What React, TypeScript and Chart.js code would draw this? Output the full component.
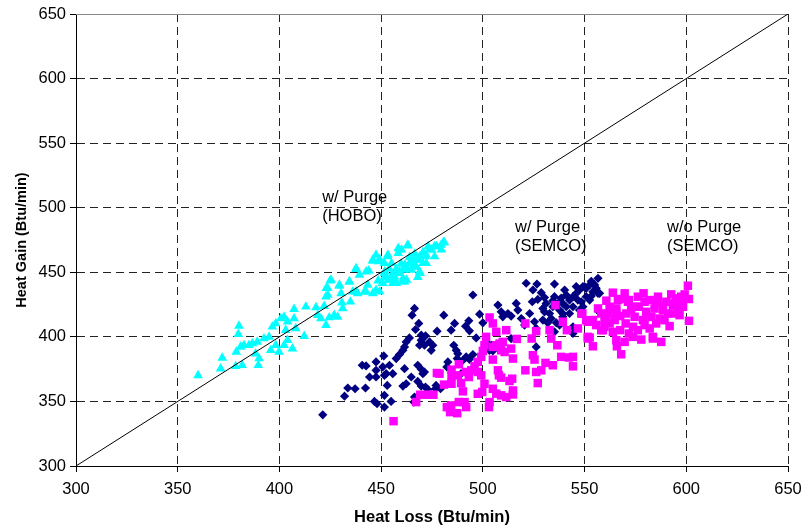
import React, { useEffect, useRef } from "react";
import { Chart, registerables } from "chart.js";

Chart.register(...registerables);

// Axis ticks (Btu/min)
const lossTicks = [300, 350, 400, 450, 500, 550, 600, 650];
const gainTicks = [300, 350, 400, 450, 500, 550, 600, 650];

// Heat Loss, Heat Gain pairs
const hoboPurge: [number, number][] = [
  [360.0,370.2],[371.1,375.4],[371.9,383.7],[380.1,408.5],[379.8,402.1],[378.5,377.2],[381.7,378.0],[378.8,388.3],
  [380.9,392.2],[382.6,393.5],[385.0,393.5],[386.7,394.8],[389.1,396.1],[388.3,387.0],[389.6,378.0],[390.0,383.2],
  [392.4,398.7],[394.9,400.0],[396.5,407.8],[398.2,410.4],[400.7,414.2],[402.3,415.5],[404.0,411.7],[403.1,405.2],
  [395.7,389.6],[398.2,393.5],[399.8,388.3],[402.3,393.5],[404.0,397.4],[406.4,390.9],[407.2,421.5],[407.2,414.2],
  [408.0,406.5],[412.2,400.5],[413.0,423.3],[418.0,422.8],[418.8,416.8],[420.4,414.2],[422.9,409.1],[422.0,423.8],
  [424.5,415.0],[426.9,416.8],[428.6,415.5],[431.1,422.0],[430.7,426.4],[434.9,427.2],[422.9,431.1],[423.7,437.6],
  [424.9,443.5],[429.4,439.4],[430.3,433.7],[434.4,442.8],[437.7,435.0],[437.7,452.3],[441.8,435.0],[443.4,440.2],
  [445.9,433.7],[447.5,436.3],[449.3,435.0],[448.5,443.5],[445.9,458.8],[443.9,451.3],[448.5,458.3],[449.3,460.1],
  [453.1,462.2],[455.1,457.0],[451.8,450.6],[453.5,444.0],[456.8,444.0],[458.4,464.8],[460.0,467.4],[463.0,470.5],
  [460.9,451.8],[462.5,444.0],[461.7,455.7],[465.0,458.3],[469.1,449.2],[468.3,459.6],[471.5,462.2],[474.8,467.4],
  [477.3,470.0],[480.6,473.1],[473.1,470.0],[466.6,454.4],[458.4,449.2],[451.6,446.1],[455.7,448.7],[457.4,452.6],
  [459.8,456.5],[464.0,461.7],[466.5,464.2],[470.6,465.5],[468.0,446.1],[455.7,441.5],[460.6,442.7],[464.8,451.8],
  [472.2,457.0],[476.3,462.2],[479.6,467.4],[454.0,452.6],[450.7,441.5],[458.4,468.6],
  [451.6,449.2],[454.1,444.0],[456.6,446.6],[459.0,450.5],[460.7,445.3],[462.3,453.1],[463.9,457.0],[466.4,459.6],
  [468.9,462.2],[467.2,454.4],[470.5,457.0],[472.1,463.5],[473.8,467.4],[476.2,470.0],[479.5,471.2],[481.1,473.1],
  [459.0,467.4],[463.1,471.2],[453.3,463.5],[450.8,441.5],[457.4,441.5],[461.5,442.7],[468.9,450.5],[451.6,457.0],
  [445.9,459.6],[447.5,463.5],[442.6,450.5],[439.3,447.9],[437.7,453.1],[434.4,442.7],[429.5,440.2],[425.4,444.0],
  [423.0,437.6],[423.8,432.4],[436.1,435.0],[442.6,435.0],[438.5,433.7],
];

const semcoPurge: [number, number][] = [
  [421.3,339.6],[432.0,354.1],[433.6,360.4],[437.2,359.8],[442.3,360.4],[440.7,378.0],[442.6,377.5],[444.3,368.9],
  [447.5,368.9],[447.5,374.1],[447.5,380.6],[451.3,385.2],[451.6,370.2],[453.0,362.4],[451.6,354.7],[454.9,350.0],
  [451.6,345.6],[446.7,350.0],[448.0,348.2],[450.8,376.7],[452.5,371.5],[455.7,371.5],[454.1,378.0],[457.4,383.2],
  [459.0,386.3],[460.7,389.6],[461.5,392.2],[463.9,399.2],[462.3,396.1],[466.4,422.0],[465.2,416.8],[468.5,410.4],
  [466.9,405.7],[469.7,401.3],[471.8,400.8],[469.7,397.4],[468.9,393.5],[471.3,393.5],[473.8,396.1],[475.4,393.5],
  [474.6,389.6],[468.0,378.0],[469.7,374.9],[470.5,371.5],[461.5,375.4],[460.7,361.9],[462.3,363.7],[464.8,368.9],
  [468.0,365.5],[469.7,361.9],[471.8,361.1],[472.9,359.3],[466.4,353.4],[466.1,349.5],[477.5,404.4],[480.8,416.8],
  [484.4,405.2],[486.1,410.4],[485.7,393.5],[486.9,389.6],[487.7,387.0],[482.8,380.6],[489.3,371.5],[479.2,359.8],
  [476.7,359.8],[477.0,362.4],[471.3,372.8],[482.3,376.7],[487.4,383.2],[488.5,379.8],[490.2,381.9],[491.8,384.5],
  [493.4,382.6],[495.1,386.3],[491.5,408.3],[493.1,412.4],[493.4,404.7],[496.7,399.2],[495.1,432.4],[498.4,417.6],
  [500.0,410.9],[501.6,396.1],[503.0,392.7],[503.2,389.6],[504.9,389.1],[504.1,393.5],[507.4,424.6],[509.0,419.4],
  [509.8,415.5],[512.3,418.1],[513.9,416.1],[516.4,425.9],[517.2,420.7],[518.9,414.2],[520.5,409.1],[513.9,398.7],
  [521.3,441.5],[524.6,436.3],[526.6,440.9],[528.7,434.2],[527.0,429.0],[524.3,427.2],[523.0,418.1],[525.4,411.7],
  [526.2,406.5],[526.2,392.2],[530.3,419.4],[532.8,418.1],[535.2,440.9],[535.2,431.1],[537.7,427.2],[537.7,420.7],
  [539.3,415.5],[536.1,410.9],[541.0,432.4],[542.6,428.5],[544.3,431.1],[545.9,433.7],[547.5,436.3],[549.2,438.9],
  [550.8,437.6],[552.5,440.2],[556.6,445.3],[556.6,433.7],[554.1,435.0],[542.6,418.1],[544.3,407.8],[549.2,423.3],
  [541.0,423.3],[531.9,410.9],[529.5,413.0],[531.1,425.9],[534.4,423.3],[539.3,425.9],[544.3,423.3],[546.7,428.5],
  [533.6,414.2],[537.7,409.1],[547.5,420.7],[550.8,431.1],[529.5,422.0],[550.0,438.9],[555.7,437.6],[557.4,433.7],
  [553.3,431.6],[539.3,418.1],[535.2,403.9],[544.3,402.6],[557.4,418.9],
  [548.4,427.2],[552.5,428.5],[555.0,440.2],[545.9,438.9],[540.2,436.3],[553.3,443.0],[538.5,430.0],[534.4,428.0],
  [530.3,430.4],
];

const semcoNoPurge: [number, number][] = [
  [456.1,334.7],[467.2,349.5],[469.2,355.2],[473.1,355.2],[475.7,355.2],[477.4,372.0],[478.7,371.5],[480.9,363.0],
  [484.6,363.7],[484.6,369.4],[484.6,374.6],[488.2,378.8],[487.7,370.2],[489.3,364.2],[490.2,357.8],[488.2,349.5],
  [491.0,349.5],[491.8,345.6],[482.3,345.6],[484.4,346.9],[483.9,341.7],[487.4,340.9],[493.1,368.9],[491.8,372.8],
  [494.3,374.1],[495.9,377.2],[497.5,380.6],[499.2,384.5],[500.0,389.1],[500.8,393.5],[497.5,372.8],[499.2,370.2],
  [500.8,363.7],[497.5,355.9],[499.7,357.3],[503.3,349.5],[503.0,345.6],[501.6,400.0],[504.9,392.2],[506.6,393.5],
  [508.2,394.8],[509.8,396.1],[509.0,389.6],[510.7,388.3],[513.9,390.9],[514.8,383.2],[504.9,382.4],[506.6,403.9],
  [507.4,374.1],[507.9,370.2],[509.0,368.4],[514.4,367.6],[513.1,365.8],[504.9,359.8],[506.6,356.0],[509.0,354.7],
  [511.5,353.4],[514.8,358.5],[514.8,355.4],[504.9,410.4],[503.3,415.0],[511.5,405.2],[516.7,398.4],[520.9,410.4],
  [524.0,398.7],[526.2,404.4],[524.6,385.8],[525.4,382.4],[520.9,374.1],[526.2,372.8],[528.7,374.1],[530.8,379.8],
  [534.4,378.0],[527.0,364.2],[532.8,405.2],[533.6,398.7],[536.6,393.5],[538.5,384.5],[542.3,384.0],[544.3,384.5],
  [544.3,377.2],[535.7,424.6],[539.3,411.7],[541.3,405.2],[546.7,406.5],[548.9,418.1],[551.6,400.0],[554.1,392.7],
  [550.8,412.9],[553.3,411.7],[555.7,409.1],[558.2,418.1],[559.8,412.9],[559.0,405.2],[551.6,411.7],[552.5,399.5],
  [560.7,413.5],[562.3,410.4],[559.8,407.8],[558.2,405.2],[562.3,423.3],[563.9,434.2],[566.4,428.5],[565.6,419.4],
  [564.8,413.0],[563.9,403.9],[565.6,397.4],[565.9,392.7],[568.0,386.5],[567.5,405.2],[569.7,433.7],[571.3,427.2],
  [570.5,418.1],[570.2,410.4],[569.7,396.1],[571.8,402.6],[573.8,400.0],[573.8,407.8],[574.6,415.5],[575.4,423.3],
  [576.2,431.1],[577.9,397.9],[579.0,433.7],[579.5,427.2],[578.7,413.0],[580.3,419.4],[582.0,406.5],[583.6,398.7],
  [582.8,415.5],[584.4,421.9],[585.2,425.9],[586.9,414.2],[587.7,396.1],[588.5,420.7],[590.2,427.2],[591.0,418.1],
  [591.8,408.3],[592.6,432.9],[593.4,424.6],[595.1,429.8],[595.9,420.7],[597.5,427.2],[599.2,432.9],[600.8,439.6],
  [601.3,429.3],[601.3,412.4],[598.4,423.3],[596.7,416.8],[593.4,418.1],[568.0,429.3],[571.8,428.5],[576.6,423.3],
  [565.6,422.0],[561.5,418.1],[554.1,413.0],[548.4,418.0],[551.6,398.7],[583.6,400.0],
  [585.2,410.4],[589.3,412.9],[579.5,409.1],[576.2,405.2],[572.9,420.7],[567.5,416.1],[594.2,426.0],[597.5,431.1],
  [588.5,424.6],[582.0,428.5],[586.1,431.1],[560.7,428.0],[556.6,422.0],
];

// y = x reference line
const equalityLine = [
  { x: 300, y: 300 },
  { x: 650, y: 650 },
];

// Text annotations anchored in data coordinates (Heat Loss, Heat Gain)
const annotationLabels = [
  { lines: ["w/ Purge", "(HOBO)"], loss: 421, gain: 508.3 },
  { lines: ["w/ Purge", "(SEMCO)"], loss: 515.8, gain: 485.1 },
  { lines: ["w/o Purge", "(SEMCO)"], loss: 590.5, gain: 485.1 },
];

const FONT = '"Liberation Sans", Arial, Helvetica, sans-serif';

const toXY = (pts: [number, number][]) => pts.map(([x, y]) => ({ x, y }));

const annotationPlugin = {
  id: "annotationText",
  afterDatasetsDraw(chart: any) {
    const { ctx, scales } = chart;
    const xs = scales.x;
    const ys = scales.y;
    ctx.save();
    ctx.font = `16.5px ${FONT}`;
    ctx.fillStyle = "#000";
    ctx.textAlign = "left";
    ctx.textBaseline = "middle";
    annotationLabels.forEach((a) => {
      const px = xs.getPixelForValue(a.loss);
      const py = ys.getPixelForValue(a.gain);
      a.lines.forEach((t, i) => ctx.fillText(t, px, py + i * 19));
    });
    ctx.restore();
  },
};

const topBorderPlugin = {
  id: "topBorder",
  beforeDatasetsDraw(chart: any) {
    const { ctx, chartArea } = chart;
    ctx.save();
    ctx.strokeStyle = "#888";
    ctx.lineWidth = 1;
    ctx.setLineDash([]);
    const y = Math.round(chartArea.top) + 0.5;
    ctx.beginPath();
    ctx.moveTo(chartArea.left, y);
    ctx.lineTo(chartArea.right, y);
    ctx.stroke();
    ctx.restore();
  },
};

export default function App() {
  const canvasRef = useRef<HTMLCanvasElement | null>(null);

  useEffect(() => {
    document.body.style.margin = "0";
    const canvas = canvasRef.current;
    if (!canvas) return;
    const chart = new Chart(canvas, {
      type: "scatter",
      data: {
        datasets: [
          {
            label: "y = x",
            data: equalityLine,
            showLine: true,
            borderColor: "#000",
            borderWidth: 1,
            pointRadius: 0,
            order: -1,
          },
          {
            label: "w/o Purge (SEMCO)",
            data: toXY(semcoNoPurge),
            pointStyle: "rect",
            pointRadius: 6,
            backgroundColor: "#FF00FF",
            borderWidth: 0,
            order: 0,
          },
          {
            label: "w/ Purge (SEMCO)",
            data: toXY(semcoPurge),
            pointStyle: "rectRot",
            pointRadius: 4.6,
            backgroundColor: "#000080",
            borderWidth: 0,
            order: 1,
          },
          {
            label: "w/ Purge (HOBO)",
            data: toXY(hoboPurge),
            pointStyle: "triangle",
            pointRadius: 5.6,
            backgroundColor: "#00FFFF",
            borderWidth: 0,
            order: 2,
          },
        ] as any,
      },
      options: {
        responsive: false,
        animation: false,
        events: [],
        layout: { padding: { left: 0, right: 14, top: 14, bottom: 0 } },
        plugins: {
          legend: { display: false },
          tooltip: { enabled: false },
        },
        scales: {
          x: {
            type: "linear",
            min: 300,
            max: 650,
            afterBuildTicks: (s: any) => {
              s.ticks = lossTicks.map((v) => ({ value: v }));
            },
            afterFit: (s: any) => {
              s.height = 65;
              s.paddingLeft = 0;
              s.paddingRight = 0;
            },
            grid: {
              color: "#222",
              lineWidth: 1,
              tickLength: 6,
              tickColor: "#000",
              drawTicks: true,
            },
            border: { display: true, color: "#000", width: 1, dash: [8, 5] },
            ticks: {
              color: "#000",
              font: { family: FONT, size: 16.5 },
              padding: 8,
              maxRotation: 0,
            },
            title: {
              display: true,
              text: "Heat Loss (Btu/min)",
              color: "#000",
              font: { family: FONT, size: 16.5, weight: "bold" },
              padding: { top: 0, bottom: 4 },
            },
          },
          y: {
            type: "linear",
            min: 300,
            max: 650,
            afterBuildTicks: (s: any) => {
              s.ticks = gainTicks.map((v) => ({ value: v }));
            },
            afterFit: (s: any) => {
              s.width = 76;
              s.paddingTop = 0;
              s.paddingBottom = 0;
            },
            grid: {
              color: (c: any) =>
                c.tick && c.tick.value === 650 ? "rgba(0,0,0,0)" : "#222",
              lineWidth: 1,
              tickLength: 6,
              tickColor: "#000",
              drawTicks: true,
            },
            border: { display: true, color: "#000", width: 1, dash: [8, 5] },
            ticks: {
              color: "#000",
              font: { family: FONT, size: 16.5 },
              padding: 4,
            },
            title: {
              display: true,
              text: "Heat Gain (Btu/min)",
              color: "#000",
              font: { family: FONT, size: 14.5, weight: "bold" },
              padding: { top: 13, bottom: 0 },
            },
          },
        },
      } as any,
      plugins: [topBorderPlugin, annotationPlugin],
    });
    return () => chart.destroy();
  }, []);

  return (
    <div style={{ position: "absolute", left: 0, top: 0, width: 802, height: 531, background: "#fff" }}>
      <canvas ref={canvasRef} width={802} height={531} style={{ display: "block" }} />
    </div>
  );
}
